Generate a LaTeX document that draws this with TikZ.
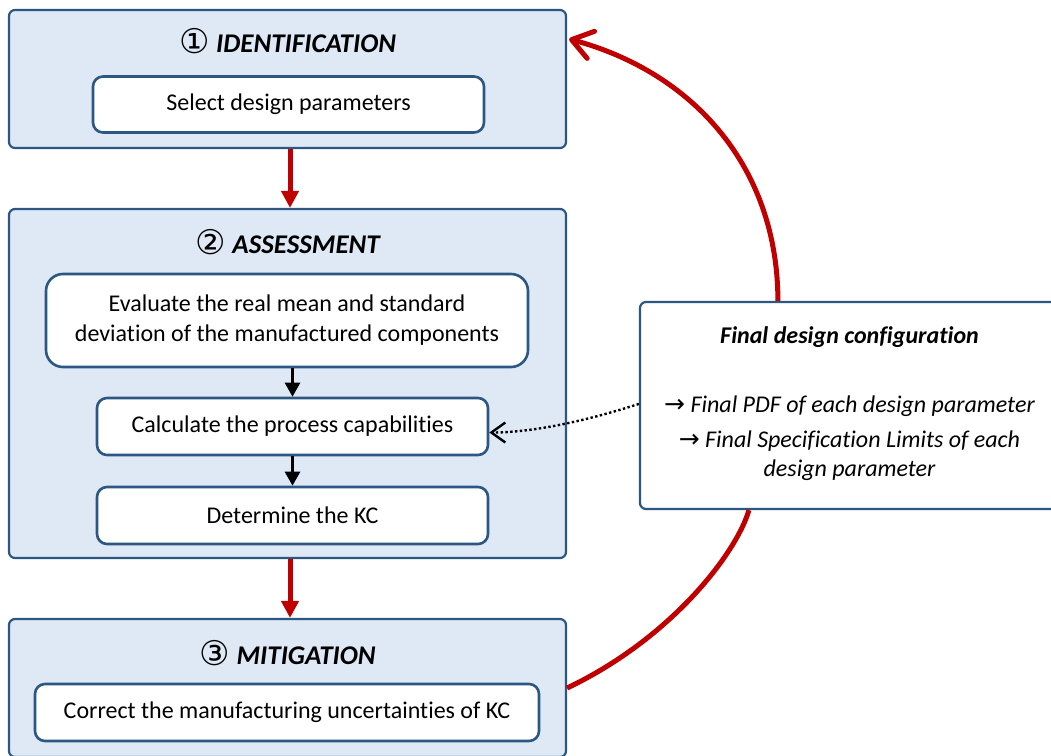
\documentclass[tikz,border=0pt]{standalone}
\usepackage{fontspec}
\setmainfont{Carlito}[Ligatures=NoCommon]
\newfontfamily\symfont{DejaVu Sans}
\usetikzlibrary{arrows.meta,calc}

\definecolor{boxblue}{RGB}{222,233,245}
\definecolor{edgeblue}{RGB}{44,87,131}
\definecolor{flowred}{RGB}{192,0,0}

\newcommand\circnum[1]{\raisebox{-1.5pt}{\symfont\mdseries\upshape\fontsize{34}{30}\selectfont #1}}
\newcommand\rarr{{\symfont\mdseries\upshape\fontsize{25}{24}\selectfont →}}

\tikzset{
  stage/.style={draw=edgeblue, line width=2.2pt, fill=boxblue, rounded corners=6pt, inner sep=0pt},
  task/.style={draw=edgeblue, line width=2.6pt, fill=white, rounded corners=10pt, inner sep=0pt,
    font=\fontsize{24}{30}\selectfont, align=center},
  stagetitle/.style={anchor=base, inner sep=0pt, font=\fontsize{27}{30}\selectfont\bfseries\itshape},
  note/.style={anchor=base, inner sep=0pt, font=\fontsize{24}{30}\selectfont\itshape},
  redflow/.style={draw=flowred, line width=5pt},
  redstep/.style={redflow, -{Triangle[length=17pt,width=17pt]}},
  blackstep/.style={draw=black, line width=2.5pt, -{Triangle[length=14pt,width=15pt]}},
}

\begin{document}
\begin{tikzpicture}[x=1pt,y=-1pt]
\clip (0,0) rectangle (1051,755);
\fill[white] (0,0) rectangle (1051,755);

% stage 1
\node[stage, minimum width=557pt, minimum height=138pt] (id) at (287.5,79) {};
\node[stagetitle] (idtitle) at (287.5,52) {\circnum{①}\hspace{0.25em}IDENTIFICATION};
\node[task, minimum width=391pt, minimum height=56pt] (sel) at (288.5,104.5) {Select design parameters};

% stage 2
\node[stage, minimum width=557pt, minimum height=349pt] (as) at (287.5,383.5) {};
\node[stagetitle] (astitle) at (287.5,253) {\circnum{②}\hspace{0.25em}ASSESSMENT};
\node[task, rounded corners=17pt, minimum width=482pt, minimum height=93pt] (eval) at (287,320.5)
  {Evaluate the real mean and standard\\deviation of the manufactured components};
\node[task, minimum width=391pt, minimum height=57pt] (calc) at (292.5,426.5) {Calculate the process capabilities};
\node[task, minimum width=391pt, minimum height=57pt] (kc) at (292.5,515.5) {Determine the KC};

% stage 3
\node[stage, minimum width=557pt, minimum height=138pt] (mit) at (287.5,688) {};
\node[stagetitle] (mittitle) at (287.5,664) {\circnum{③}\hspace{0.25em}MITIGATION};
\node[task, minimum width=504pt, minimum height=57pt] (corr) at (287,712.5) {Correct the manufacturing uncertainties of KC};

% final configuration
\node[stage, fill=white, minimum width=420pt, minimum height=207pt] (final) at (850,405.5) {};
\node[note, font=\fontsize{24}{30}\selectfont\bfseries\itshape] (fhead) at (849.5,343) {Final design configuration};
\node[note] (fpdf) at (849.5,412) {\rarr\ Final PDF of each design parameter};
\node[note] (fsl) at (849.5,447) {\rarr\ Final Specification Limits of each};
\node[note] (fdp) at (849.5,476) {design parameter};

% main flow
\draw[redstep] ([xshift=2.5pt]id.south) -- ([xshift=2.5pt]as.north);
\draw[redstep] ([xshift=2.5pt]as.south) -- ([xshift=2.5pt]mit.north);
\draw[blackstep] (eval.south -| calc) -- (calc.north);
\draw[blackstep] (calc.south) -- (kc.north);

% feedback loop
\draw[redflow] (mit.east) .. controls +(105,-50) and +(-12,42) .. ([xshift=110pt]final.south west);
\draw[redflow, -{Straight Barb[length=20pt,width=28pt,round]}]
  ([xshift=139pt]final.north west) .. controls +(0,-132) and +(126,34) .. ([xshift=2pt,yshift=40pt]id.east);

% dotted link to capabilities
\draw[line width=2.4pt, dash pattern=on 2.4pt off 2.4pt, -{Straight Barb[length=14pt,width=20pt]}]
  ([yshift=-103pt]final.north west) .. controls +(-40,13) and +(50,0) .. ([yshift=-6pt]calc.east);
\end{tikzpicture}
\end{document}
